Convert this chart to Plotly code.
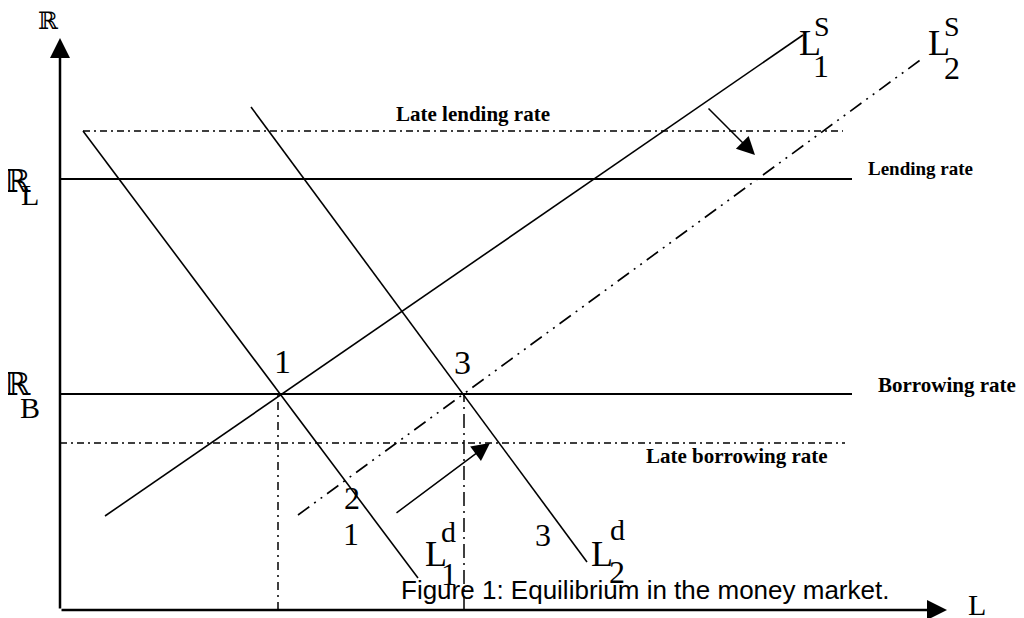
import plotly.graph_objects as go

# Money market diagram: units on both axes are arbitrary (L = loans, R = rate)

# horizontal rate levels
rate_names = ["Late lending rate", "Lending rate", "Borrowing rate", "Late borrowing rate"]
rate_levels = [47.9, 43.1, 21.6, 16.7]
rate_start = [2.3, 0.0, 0.0, 0.0]
rate_end = [78.3, 79.2, 79.2, 78.5]

# supply / demand curves (two end points each)
curve_names = ["L1s", "L1d", "L2d", "L2s"]
curve_L = [[4.5, 74.3], [2.3, 35.8], [19.1, 52.7], [23.8, 86.3]]
curve_R = [[9.4, 57.5], [47.9, 3.2], [50.3, 4.8], [9.5, 55.2]]

# equilibrium points on the borrowing rate
eq_L = [21.8, 40.4]
eq_R = [21.6, 21.6]

# shift arrows (tail -> head)
shift_tail_L = [64.7, 33.5]
shift_tail_R = [50.3, 9.6]
shift_head_L = [69.5, 43.0]
shift_head_R = [45.5, 16.7]

axis_L_max = 88.7
axis_R_max = 57.2

serif = "Liberation Serif"

fig = go.Figure()

# rate lines
rate_dash = ["7px,4px,2px,4px", "solid", "solid", "7px,4px,2px,4px"]
rate_width = [1.5, 2, 2, 1.5]
for i, name in enumerate(rate_names):
    fig.add_trace(go.Scatter(
        x=[rate_start[i], rate_end[i]], y=[rate_levels[i], rate_levels[i]],
        mode="lines", name=name,
        line=dict(color="black", width=rate_width[i], dash=rate_dash[i])))

# curves
curve_dash = ["solid", "solid", "solid", "14px,6px,2px,6px,2px,6px"]
for i, name in enumerate(curve_names):
    fig.add_trace(go.Scatter(
        x=curve_L[i], y=curve_R[i], mode="lines", name=name,
        line=dict(color="black", width=1.6, dash=curve_dash[i])))

# drop lines from the equilibria
drop_dash = ["8px,5px,2px,5px", "14px,5px,2px,5px"]
for i in range(len(eq_L)):
    fig.add_trace(go.Scatter(
        x=[eq_L[i], eq_L[i]], y=[0, eq_R[i]], mode="lines",
        line=dict(color="black", width=1.5, dash=drop_dash[i])))

# axes with arrows
fig.add_annotation(x=0, y=axis_R_max, ax=0, ay=0, xref="x", yref="y", axref="x", ayref="y",
                   text="", showarrow=True, arrowhead=2, arrowsize=1.6, arrowwidth=2.5, arrowcolor="black")
fig.add_annotation(x=axis_L_max, y=0, ax=0, ay=0, xref="x", yref="y", axref="x", ayref="y",
                   text="", showarrow=True, arrowhead=2, arrowsize=1.6, arrowwidth=2.5, arrowcolor="black")

# shift arrows
for i in range(len(shift_tail_L)):
    fig.add_annotation(x=shift_head_L[i], y=shift_head_R[i], ax=shift_tail_L[i], ay=shift_tail_R[i],
                       xref="x", yref="y", axref="x", ayref="y", text="", showarrow=True,
                       arrowhead=2, arrowsize=2.4, arrowwidth=1.5, arrowcolor="black")


def label(x, y, text, size=30, family=serif, bold=False):
    if bold:
        text = "<b>" + text + "</b>"
    fig.add_annotation(x=x, y=y, text=text, showarrow=False, xref="x", yref="y",
                       font=dict(family=family, size=size, color="black"))


# rate labels
label(41.3, 49.6, rate_names[0], size=21, bold=True)
label(86.0, 44.2, rate_names[1], size=19, bold=True)
label(88.7, 22.5, rate_names[2], size=21, bold=True)
label(67.7, 15.4, rate_names[3], size=21, bold=True)

# axis labels
label(-1.2, 58.9, "ℝ", size=24, family="DejaVu Serif")
label(91.7, 0.6, "L", size=30)
label(-4.3, 42.9, "ℝ", size=32, family="DejaVu Serif")
label(-3.0, 41.6, "L", size=30)
label(-4.3, 22.6, "ℝ", size=32, family="DejaVu Serif")
label(-3.0, 20.3, "B", size=30)

# point numbers
label(22.2, 24.9, "1", size=34)
label(40.2, 24.8, "3", size=34)
label(29.2, 11.2, "2", size=32)
label(29.1, 7.6, "1", size=32)
label(48.3, 7.5, "3", size=32)

# curve names
label(37.6, 5.6, "L", size=36)
label(38.8, 7.9, "d", size=30)
label(38.9, 3.6, "1", size=32)
label(54.2, 5.6, "L", size=36)
label(55.7, 8.1, "d", size=30)
label(55.7, 3.8, "2", size=32)
label(75.0, 56.7, "L", size=36)
label(76.2, 58.4, "S", size=28)
label(76.1, 54.4, "1", size=32)
label(87.9, 56.7, "L", size=36)
label(89.2, 58.4, "S", size=28)
label(89.2, 54.2, "2", size=32)

# caption
label(58.5, 2.0, "Figure 1: Equilibrium in the money market.", size=26, family="Liberation Sans")

# the page adds an 8px body margin, so the figure is sized to fit what is left
fig.update_layout(
    width=1016, height=610,
    margin=dict(l=0, r=0, t=0, b=0),
    paper_bgcolor="white", plot_bgcolor="white",
    showlegend=False,
    xaxis=dict(range=[-5.2, 96.4], visible=False, fixedrange=True),
    yaxis=dict(range=[-0.8, 60.2], visible=False, fixedrange=True),
)

fig.write_html("out.html")
